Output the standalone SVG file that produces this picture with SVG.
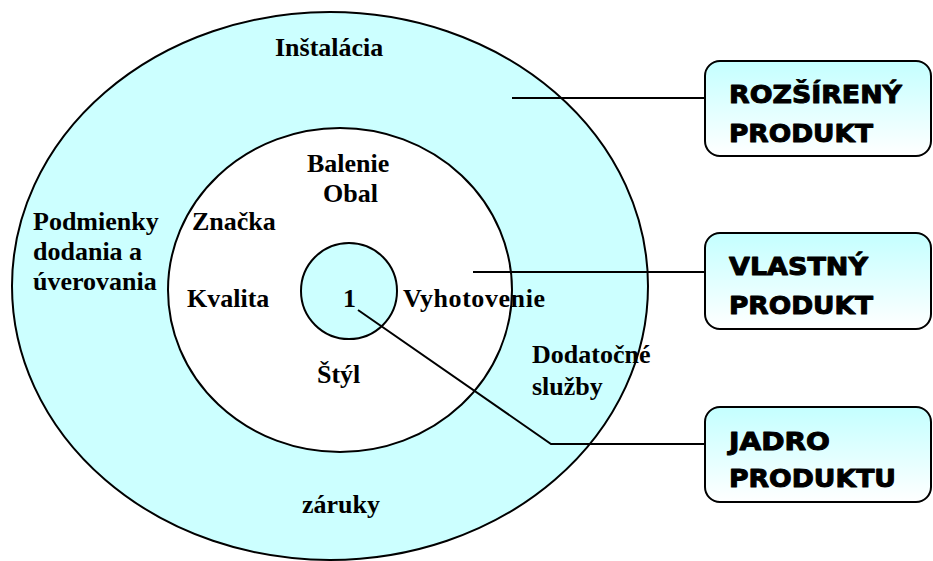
<svg xmlns="http://www.w3.org/2000/svg" width="933" height="561" viewBox="0 0 933 561">
<defs>
<linearGradient id="bg" x1="0" y1="0" x2="0" y2="1">
<stop offset="0" stop-color="#c4ffff"/>
<stop offset="1" stop-color="#ffffff"/>
</linearGradient>
<style>
.ring{fill:#ccffff;stroke:#000;stroke-width:2}
.white{fill:#ffffff;stroke:#000;stroke-width:2}
.t{font-family:"Liberation Serif","Times New Roman",serif;font-weight:bold;font-size:26px;fill:#000}
.b{font-family:"DejaVu Sans","Liberation Sans",sans-serif;font-weight:bold;font-size:25px;fill:#000;stroke:#000;stroke-width:1;stroke-linejoin:round}
.box{fill:url(#bg);stroke:#000;stroke-width:2}
.c{fill:none;stroke:#000;stroke-width:2}
</style>
</defs>
<rect width="933" height="561" fill="#fff"/>
<g id="outer">
<ellipse class="ring" cx="330" cy="286" rx="318" ry="274"/>
<text class="t" x="275" y="56">Inštalácia</text>
<text class="t" x="33" y="230">Podmienky</text>
<text class="t" x="33" y="260">dodania a</text>
<text class="t" x="33" y="290">úverovania</text>
<text class="t" x="532" y="363">Dodatočné</text>
<text class="t" x="532" y="395">služby</text>
<text class="t" x="302" y="513">záruky</text>
</g>
<g id="inner">
<ellipse class="white" cx="340" cy="290" rx="172" ry="162"/>
<text class="t" x="307" y="172">Balenie</text>
<text class="t" x="323" y="202">Obal</text>
<text class="t" x="192" y="230">Značka</text>
<text class="t" x="187" y="307">Kvalita</text>
<text class="t" x="403" y="307" textLength="142">Vyhotovenie</text>
<text class="t" x="317" y="383">Štýl</text>
</g>
<g id="core">
<circle class="ring" cx="349" cy="291" r="48"/>
<text class="t" x="343" y="307">1</text>
</g>
<g id="connectors">
<polyline class="c" points="512,98 705,98"/>
<polyline class="c" points="473,272 705,272"/>
<polyline class="c" points="358,310 551,444 705,444"/>
</g>
<g id="box-rozsireny">
<rect class="box" x="705" y="61" width="226" height="95" rx="15"/>
<text class="b" x="729" y="103" textLength="173" lengthAdjust="spacingAndGlyphs">ROZŠÍRENÝ</text>
<text class="b" x="729" y="142" textLength="144" lengthAdjust="spacingAndGlyphs">PRODUKT</text>
</g>
<g id="box-vlastny">
<rect class="box" x="705" y="233" width="226" height="96" rx="15"/>
<text class="b" x="729" y="275" textLength="139" lengthAdjust="spacingAndGlyphs">VLASTNÝ</text>
<text class="b" x="729" y="314" textLength="144" lengthAdjust="spacingAndGlyphs">PRODUKT</text>
</g>
<g id="box-jadro">
<rect class="box" x="705" y="407" width="226" height="95" rx="15"/>
<text class="b" x="729" y="450" textLength="101" lengthAdjust="spacingAndGlyphs">JADRO</text>
<text class="b" x="729" y="487" textLength="167" lengthAdjust="spacingAndGlyphs">PRODUKTU</text>
</g>
</svg>
